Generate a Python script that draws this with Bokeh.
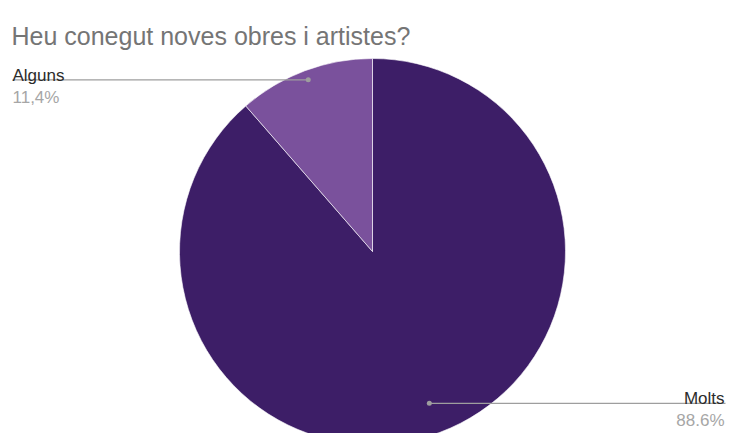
import math
from bokeh.plotting import figure
from bokeh.models import Range1d, ColumnDataSource
from bokeh.core.properties import value
from bokeh.embed import file_html
from bokeh.resources import INLINE

title_text = "Heu conegut noves obres i artistes?"
categories = ["Molts", "Alguns"]
shares = [88.6, 11.4]
share_labels = ["88.6%", "11,4%"]
colors = ["#3d1e67", "#7a519c"]

W, H = 726, 433
FONT = "Liberation Sans"

p = figure(width=W, height=H, output_backend="svg", toolbar_location=None,
           x_range=Range1d(0, W), y_range=Range1d(0, H), min_border=0)
p.axis.visible = False
p.grid.visible = False
p.outline_line_color = None
p.background_fill_color = "white"
p.border_fill_color = "white"

# screen (px, py) -> data
def X(px):
    return px
def Y(py):
    return H - py

cx, cy, r = X(372), Y(251), 193

# wedges: Molts clockwise from 12 o'clock, Alguns fills the rest
total = sum(shares)
starts, ends, mids = [], [], []
a = math.pi / 2
for s in shares:
    sweep = 2 * math.pi * s / total
    starts.append(a - sweep)
    ends.append(a)
    mids.append(a - sweep / 2)
    a -= sweep

src = ColumnDataSource(dict(x=[cx] * len(shares), y=[cy] * len(shares),
                            start=starts, end=ends, color=colors))
p.wedge(x="x", y="y", radius=r, start_angle="start", end_angle="end",
        fill_color="color", line_color="white", line_width=0.6, source=src)

# leader lines (dot placed along each slice's mid angle)
dot_frac = [0.84, 0.95]
dots_x = [cx + f * r * math.cos(m) for f, m in zip(dot_frac, mids)]
dots_y = [cy + f * r * math.sin(m) for f, m in zip(dot_frac, mids)]
line_ends = [X(725), X(12)]
for dx, dy, ex in zip(dots_x, dots_y, line_ends):
    p.line([dx, ex], [dy, dy], line_color="#9e9e9e", line_width=1.2)
p.scatter(dots_x, dots_y, size=5, color="#9e9e9e", line_color=None)

# labels
label_x = [X(724), X(12)]
align = ["right", "left"]
for i in range(len(categories)):
    dy = dots_y[i]
    p.text(x=[label_x[i]], y=[dy + 4.5], text=[categories[i]],
           text_align=align[i], text_baseline="alphabetic",
           text_font=value(FONT), text_font_size="17px", text_color="#2b2b2b")
    p.text(x=[label_x[i]], y=[dy - 17.5], text=[share_labels[i]],
           text_align=align[i], text_baseline="alphabetic",
           text_font=value(FONT), text_font_size="17px", text_color="#a6a6a6")

p.text(x=[X(11)], y=[Y(35)], text=[title_text], text_align="left",
       text_baseline="alphabetic", text_font=value(FONT),
       text_font_size="25px", text_color="#757575")

open("out.html", "w").write(file_html(p, INLINE))
